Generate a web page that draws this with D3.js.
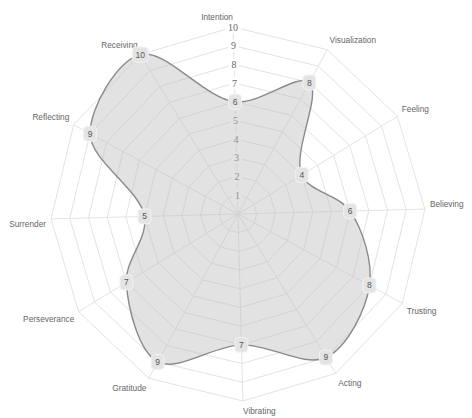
<!DOCTYPE html>
<html>
<head>
<meta charset="utf-8">
<script src="https://cdn.jsdelivr.net/npm/d3@7"></script>
<style>
  html, body { margin: 0; padding: 0; background: #fff; }
  svg { display: block; }
</style>
</head>
<body>
<svg id="chart" width="472" height="418"></svg>
<script>
// Twelve practices, each scored 0–10
const categories = ["Intention", "Visualization", "Feeling", "Believing", "Trusting", "Acting",
                    "Vibrating", "Gratitude", "Perseverance", "Surrender", "Reflecting", "Receiving"];
const scores = [6, 8, 4, 6, 8, 9, 7, 9, 7, 5, 9, 10];
const tickValues = [1, 2, 3, 4, 5, 6, 7, 8, 9, 10];

const width = 472, height = 418;
const cx = 238, cy = 214;
const outerRadius = 187;
const startAngle = -1.5 * Math.PI / 180;   // slight counter-clockwise offset of the first spoke

const svg = d3.select("#chart");
const g = svg.append("g").attr("transform", `translate(${cx},${cy})`);

const angle = d3.scaleBand()
  .domain(categories)
  .range([startAngle, startAngle + 2 * Math.PI])
  .paddingInner(0).paddingOuter(0).align(0);

const r = d3.scaleLinear().domain([0, 10]).range([0, outerRadius]);

const px = (a, rad) => rad * Math.sin(a);
const py = (a, rad) => -rad * Math.cos(a);

// Concentric polygon grid
const ringLine = d3.lineRadial()
  .angle(d => angle(d))
  .curve(d3.curveLinearClosed);

g.append("g").attr("class", "rings")
  .selectAll("path")
  .data(tickValues)
  .join("path")
  .attr("d", t => ringLine.radius(r(t))(categories))
  .attr("fill", "none")
  .attr("stroke", "#e3e3e3")
  .attr("stroke-width", 1);

// Spokes
g.append("g").attr("class", "spokes")
  .selectAll("line")
  .data(categories)
  .join("line")
  .attr("x1", 0).attr("y1", 0)
  .attr("x2", c => px(angle(c), r(10)))
  .attr("y2", c => py(angle(c), r(10)))
  .attr("stroke", "#e3e3e3")
  .attr("stroke-width", 1);

// Radial tick labels along the first spoke
const a0 = angle(categories[0]);
const ticks = g.append("g").attr("class", "ticks")
  .selectAll("g")
  .data(tickValues)
  .join("g")
  .attr("transform", t => `translate(${px(a0, r(t))},${py(a0, r(t))})`);
ticks.append("rect")
  .attr("x", t => t >= 10 ? -8 : -5).attr("y", -6)
  .attr("width", t => t >= 10 ? 16 : 10).attr("height", 12)
  .attr("fill", "#fff");
ticks.append("text")
  .attr("text-anchor", "middle")
  .attr("dominant-baseline", "central")
  .attr("font-family", "'Liberation Serif', 'DejaVu Serif', serif")
  .attr("font-size", 10)
  .attr("fill", "#666")
  .text(t => t);

// Score shape
const shape = d3.lineRadial()
  .angle((d, i) => angle(categories[i]))
  .radius(d => r(d))
  .curve(d3.curveCatmullRomClosed.alpha(0.5));

g.append("path")
  .attr("d", shape(scores))
  .attr("fill", "rgba(190,190,190,0.45)")
  .attr("stroke", "#8a8a8a")
  .attr("stroke-width", 1.4);

// Category labels around the outside
const labelDist = outerRadius + 5;
const labelH = 10;
g.append("g").attr("class", "labels")
  .selectAll("text")
  .data(categories)
  .join("text")
  .attr("font-family", "'Liberation Sans', Arial, sans-serif")
  .attr("font-size", 8.3)
  .attr("fill", "#666")
  .attr("dominant-baseline", "central")
  .each(function (c) {
    const a = angle(c);
    const deg = Math.round(((a * 180 / Math.PI) % 360 + 360) % 360);
    const x = px(a, labelDist);
    let y = py(a, labelDist);
    if (deg === 90 || deg === 270) y -= labelH / 2;
    else if (deg > 270 || deg < 90) y -= labelH;
    const anchor = (deg === 0 || deg === 180) ? "middle" : (deg < 180 ? "start" : "end");
    d3.select(this)
      .attr("x", x)
      .attr("y", y + labelH / 2)
      .attr("text-anchor", anchor)
      .text(c);
  });

// Value badges on each point
const badges = g.append("g").attr("class", "badges")
  .selectAll("g")
  .data(scores)
  .join("g")
  .attr("transform", (d, i) => {
    const a = angle(categories[i]);
    return `translate(${px(a, r(d))},${py(a, r(d))})`;
  });
badges.append("rect")
  .attr("x", d => d >= 10 ? -8 : -6.5).attr("y", -7.5)
  .attr("width", d => d >= 10 ? 16 : 13).attr("height", 15)
  .attr("rx", 4)
  .attr("fill", "#e4e4e4")
  .attr("stroke", "#f2f2f2")
  .attr("stroke-width", 1);
badges.append("text")
  .attr("text-anchor", "middle")
  .attr("dominant-baseline", "central")
  .attr("font-family", "'Liberation Sans', Arial, sans-serif")
  .attr("font-size", 8.5)
  .attr("fill", "#555")
  .text(d => d);
</script>
</body>
</html>
